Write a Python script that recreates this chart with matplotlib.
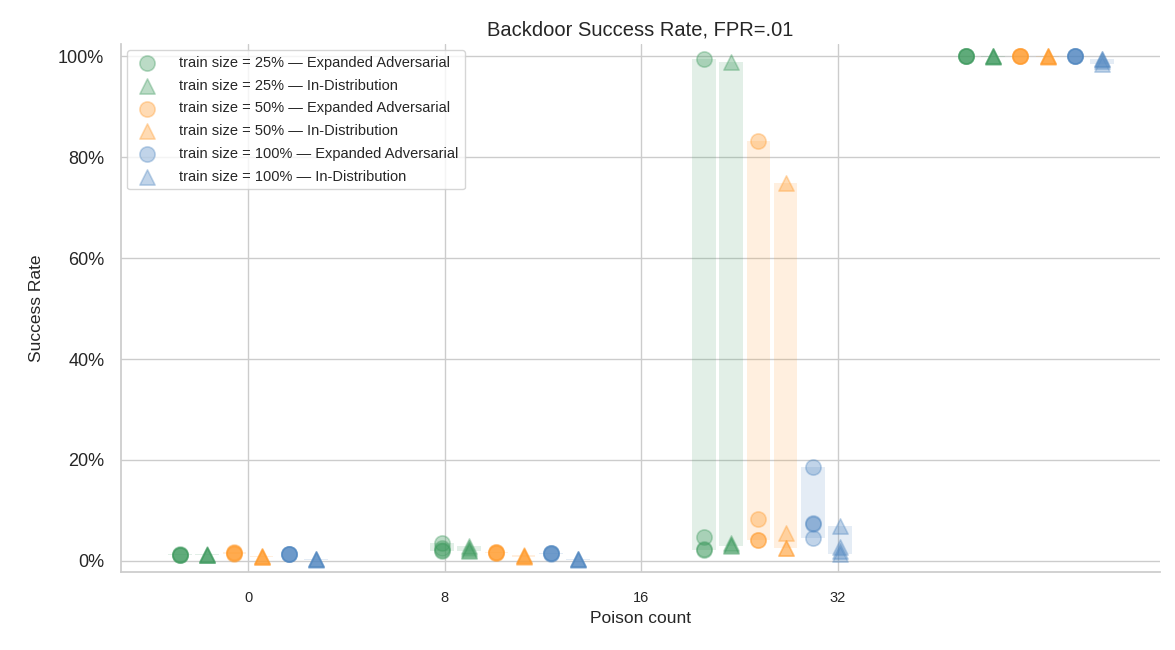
import matplotlib
matplotlib.use("Agg")
import matplotlib.pyplot as plt
import seaborn as sns
import numpy as np

sns.set_theme(style="whitegrid")
plt.rcParams['font.family'] = ['Arial', 'Liberation Sans', 'DejaVu Sans']

groups = ["0", "8", "16", "32"]
sizes = ["25%", "50%", "100%"]
dists = ["Expanded Adversarial", "In-Distribution"]
colors = {"25%": "#3e9a5e", "50%": "#ff9a2a", "100%": "#4f86c0"}

# values per series: list over groups of seed values (fractions)
data = {
    ("25%", "Expanded Adversarial"): [[0.012, 0.012, 0.011, 0.013], [0.035, 0.025, 0.02, 0.022], [0.995, 0.047, 0.022, 0.024], [1.0, 1.0, 1.0, 1.0]],
    ("25%", "In-Distribution"):      [[0.012, 0.012, 0.013, 0.012], [0.03, 0.025, 0.02, 0.022], [0.988, 0.035, 0.03, 0.032], [1.0, 1.0, 0.998, 1.0]],
    ("50%", "Expanded Adversarial"): [[0.015, 0.013, 0.015, 0.017], [0.018, 0.015, 0.016, 0.017], [0.832, 0.084, 0.042, 0.042], [1.0, 1.0, 1.0, 1.0]],
    ("50%", "In-Distribution"):      [[0.008, 0.01, 0.008, 0.009], [0.012, 0.008, 0.01, 0.01], [0.748, 0.055, 0.026, 0.026], [1.0, 0.998, 1.0, 1.0]],
    ("100%", "Expanded Adversarial"): [[0.014, 0.013, 0.014, 0.014], [0.015, 0.014, 0.015, 0.015], [0.187, 0.074, 0.046, 0.075], [1.0, 1.0, 1.0, 1.0]],
    ("100%", "In-Distribution"):      [[0.003, 0.003, 0.002, 0.003], [0.003, 0.003, 0.002, 0.003], [0.07, 0.028, 0.014, 0.02], [0.995, 0.985, 0.995, 0.99]],
}

fig, ax = plt.subplots(figsize=(11.75, 6.5), dpi=100)
fig.subplots_adjust(left=0.103, right=0.987, top=0.932, bottom=0.12)

step = 0.104
k = 0
for s in sizes:
    for d in dists:
        vals = data[(s, d)]
        off = (k - 2.5) * step
        c = colors[s]
        mk = "o" if d.startswith("Expanded") else "^"
        for gi, v in enumerate(vals):
            x = gi + off
            lo, hi = min(v), max(v)
            ax.bar(x, hi - lo, bottom=lo, width=0.09, color=c, alpha=0.15, linewidth=0, zorder=2)
            ax.scatter([x] * len(v), v, marker=mk, s=120, color=c, alpha=0.35,
                       edgecolors=c, linewidths=1.2, zorder=3,
                       label=f"train size = {s} \u2014 {d}" if gi == 0 else None)
        k += 1

ax.set_xticks([0, 0.75, 1.5, 2.25])
ax.set_xticklabels(groups, fontsize=10.5)
ax.set_xlim(-0.485, 3.48)
ax.set_ylim(-0.022, 1.024)
ax.set_yticks([0, 0.2, 0.4, 0.6, 0.8, 1.0])
ax.set_yticklabels(["0%", "20%", "40%", "60%", "80%", "100%"], fontsize=13)
ax.tick_params(axis="y", pad=6)
ax.tick_params(axis="x", pad=8)
ax.set_xlabel("Poison count", fontsize=12.5)
ax.set_ylabel("Success Rate", fontsize=12.5, labelpad=10)
ax.set_title("Backdoor Success Rate, FPR=.01", fontsize=14.5)
for sp in ["top", "right"]:
    ax.spines[sp].set_visible(False)
for sp in ["left", "bottom"]:
    ax.spines[sp].set_color("#cccccc")
ax.legend(loc="upper left", fontsize=10.5, frameon=True, borderaxespad=0.4,
          labelspacing=0.6, handletextpad=1.2)
fig.savefig("out.png")
